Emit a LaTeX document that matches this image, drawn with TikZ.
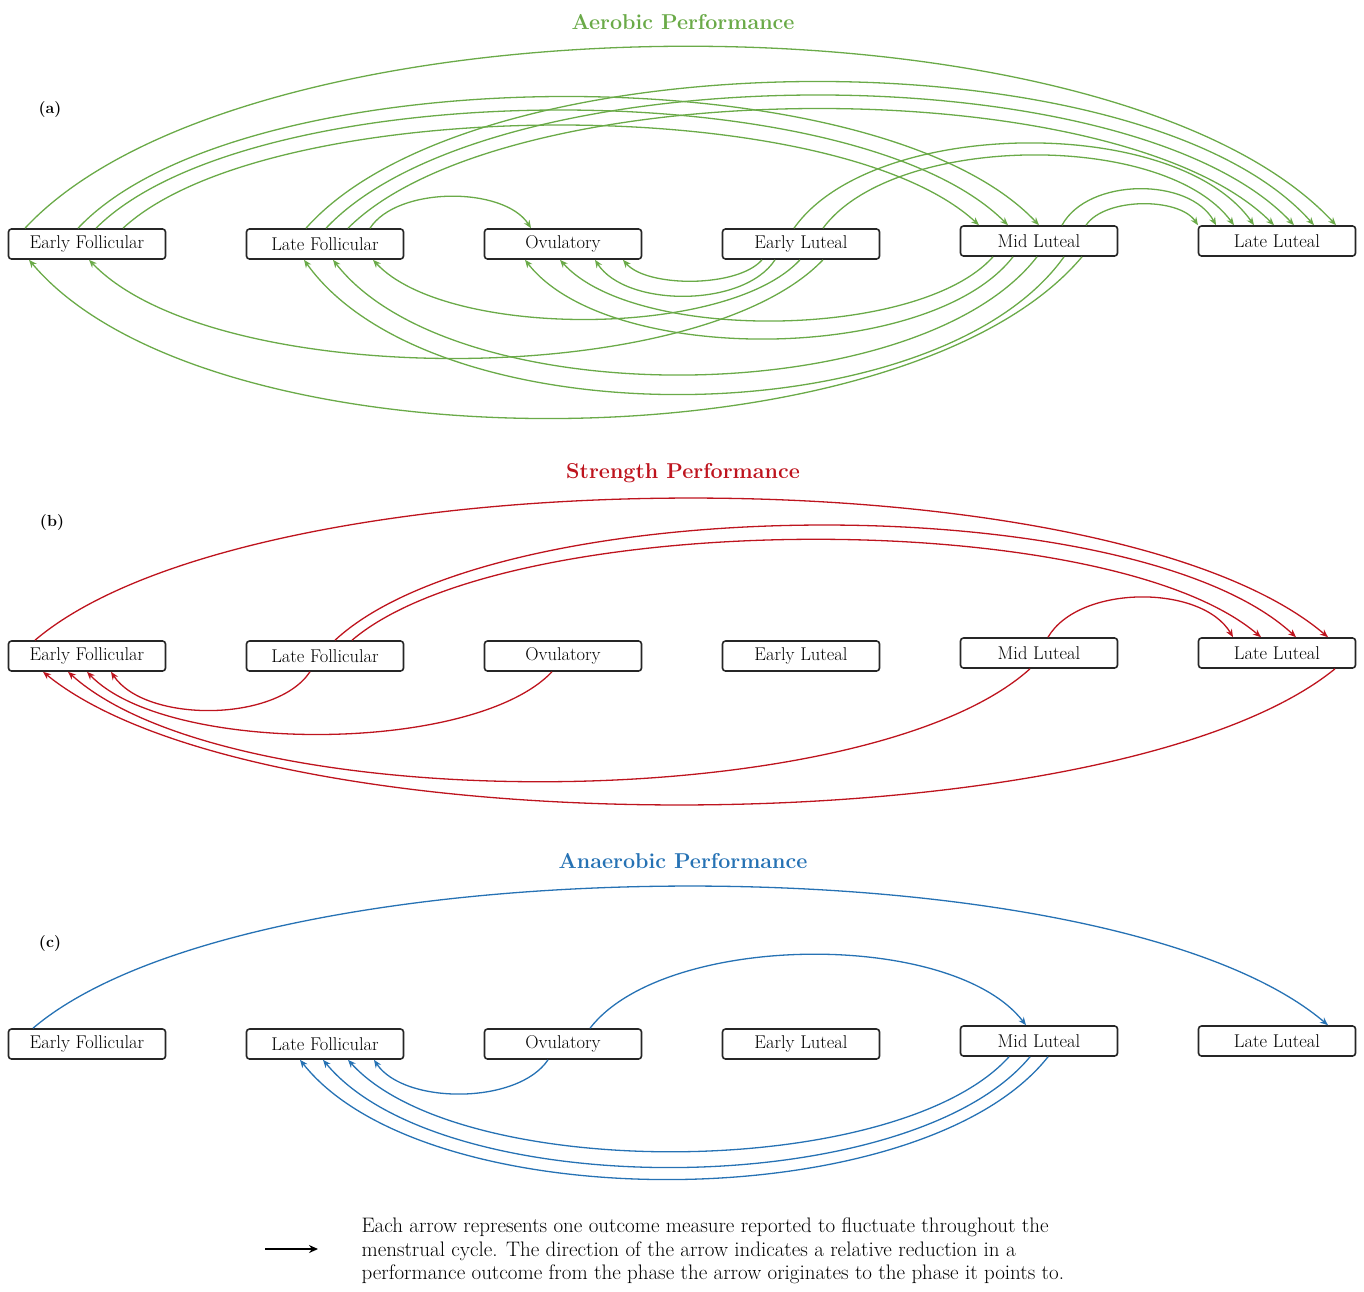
\documentclass[tikz,border=0pt]{standalone}
\usepackage{amsmath}
\usepackage{tikz}
\usetikzlibrary{arrows.meta}

\definecolor{aerogreen}{RGB}{106,170,72}
\definecolor{strred}{RGB}{190,20,30}
\definecolor{anablue}{RGB}{38,114,180}

\begin{document}
\begin{tikzpicture}[x=1pt, y=-1pt,
    phase/.style = {draw=black!85, line width=1.6pt, rounded corners=3pt, minimum width=157pt, minimum height=30pt, inner sep=0pt, font=\fontsize{18.5}{20}\selectfont},
    title/.style = {font=\fontsize{21.5}{24}\selectfont\bfseries},
    panel/.style = {font=\fontsize{16}{18}\selectfont\bfseries},
    aero/.style = {draw=aerogreen, line width=1.3pt, -{Stealth[length=8pt,width=6.5pt]}},
    stren/.style = {draw=strred, line width=1.3pt, -{Stealth[length=8pt,width=6.5pt]}},
    anaero/.style = {draw=anablue, line width=1.3pt, -{Stealth[length=8pt,width=6.5pt]}},
    node distance={238pt}]
        \useasboundingbox (0,0) rectangle (1364,1291);

        % (a) aerobic
        \node[title, text=aerogreen] (ta) at (683,22) {Aerobic Performance};
        \node[panel] (pa) at (50,110) {(a)};
        \node[phase] (EFa) at (87,244) {Early Follicular};
        \node[phase] (LFa) [right of=EFa] {Late Follicular};
        \node[phase] (Ova) [right of=LFa] {Ovulatory};
        \node[phase] (ELa) [right of=Ova] {Early Luteal};
        \node[phase] (MLa) [right of=ELa, yshift=3pt] {Mid Luteal};
        \node[phase] (LLa) [right of=MLa] {Late Luteal};
        \draw[aero] ([xshift=-62pt]EFa.north) .. controls +(223,-240) and +(-223,-240) .. ([xshift=59pt]LLa.north);
        \draw[aero] ([xshift=-9pt]EFa.north) .. controls +(163,-173) and +(-163,-173) .. (MLa.north);
        \draw[aero] ([xshift=9pt]EFa.north) .. controls +(155,-155) and +(-155,-155) .. ([xshift=-31pt]MLa.north);
        \draw[aero] ([xshift=36pt]EFa.north) .. controls +(146,-135) and +(-146,-135) .. ([xshift=-60pt]MLa.north);
        \draw[aero] ([xshift=-19pt]LFa.north) .. controls +(171,-193) and +(-171,-193) .. ([xshift=37pt]LLa.north);
        \draw[aero] ([xshift=1pt]LFa.north) .. controls +(165,-175) and +(-165,-175) .. ([xshift=17pt]LLa.north);
        \draw[aero] ([xshift=23pt]LFa.north) .. controls +(157,-157) and +(-157,-157) .. ([xshift=-3pt]LLa.north);
        \draw[aero] ([xshift=45pt]LFa.north) .. controls +(27,-42) and +(-27,-42) .. ([xshift=-32pt]Ova.north);
        \draw[aero] ([xshift=-7pt]ELa.north) .. controls +(78,-111) and +(-78,-111) .. ([xshift=-23pt]LLa.north);
        \draw[aero] ([xshift=22pt]ELa.north) .. controls +(70,-95) and +(-70,-95) .. ([xshift=-43pt]LLa.north);
        \draw[aero] ([xshift=23pt]MLa.north) .. controls +(26,-48) and +(-26,-48) .. ([xshift=-61pt]LLa.north);
        \draw[aero] ([xshift=47pt]MLa.north) .. controls +(19,-28) and +(-19,-28) .. ([xshift=-79pt]LLa.north);
        \draw[aero] ([xshift=-39pt]ELa.south) .. controls +(-24,28) and +(24,28) .. ([xshift=60pt]Ova.south);
        \draw[aero] ([xshift=-26pt]ELa.south) .. controls +(-31,48) and +(31,48) .. ([xshift=32pt]Ova.south);
        \draw[aero] ([xshift=-1pt]ELa.south) .. controls +(-73,79) and +(73,79) .. ([xshift=48pt]LFa.south);
        \draw[aero] ([xshift=22pt]ELa.south) .. controls +(-125,131) and +(125,131) .. ([xshift=2pt]EFa.south);
        \draw[aero] ([xshift=-46pt]MLa.south) .. controls +(-74,83) and +(74,83) .. ([xshift=-3pt]Ova.south);
        \draw[aero] ([xshift=-26pt]MLa.south) .. controls +(-83,107) and +(83,107) .. ([xshift=-38pt]Ova.south);
        \draw[aero] ([xshift=-2pt]MLa.south) .. controls +(-120,155) and +(120,155) .. ([xshift=8pt]LFa.south);
        \draw[aero] ([xshift=25pt]MLa.south) .. controls +(-129,181) and +(129,181) .. ([xshift=-21pt]LFa.south);
        \draw[aero] ([xshift=43pt]MLa.south) .. controls +(-179,213) and +(179,213) .. ([xshift=-58pt]EFa.south);

        % (b) strength
        \node[title, text=strred] (tb) at (683,473) {Strength Performance};
        \node[panel] (pb) at (52,522) {(b)};
        \node[phase] (EFb) at (87,656) {Early Follicular};
        \node[phase] (LFb) [right of=EFb] {Late Follicular};
        \node[phase] (Ovb) [right of=LFb] {Ovulatory};
        \node[phase] (ELb) [right of=Ovb] {Early Luteal};
        \node[phase] (MLb) [right of=ELb, yshift=3pt] {Mid Luteal};
        \node[phase] (LLb) [right of=MLb] {Late Luteal};
        \draw[stren] ([xshift=-52pt]EFb.north) .. controls +(220,-187) and +(-220,-187) .. ([xshift=51pt]LLb.north);
        \draw[stren] ([xshift=10pt]LFb.north) .. controls +(163,-151) and +(-163,-151) .. ([xshift=19pt]LLb.north);
        \draw[stren] ([xshift=27pt]LFb.north) .. controls +(155,-132) and +(-155,-132) .. ([xshift=-16pt]LLb.north);
        \draw[stren] ([xshift=9pt]MLb.north) .. controls +(31,-53) and +(-31,-53) .. ([xshift=-44pt]LLb.north);
        \draw[stren] ([xshift=-15pt]LFb.south) .. controls +(-34,51) and +(34,51) .. ([xshift=24pt]EFb.south);
        \draw[stren] ([xshift=-11pt]Ovb.south) .. controls +(-79,83) and +(79,83) .. (EFb.south);
        \draw[stren] ([xshift=-9pt]MLb.south) .. controls +(-164,148) and +(164,148) .. ([xshift=-19pt]EFb.south);
        \draw[stren] ([xshift=58pt]LLb.south) .. controls +(-220,179) and +(220,179) .. ([xshift=-44pt]EFb.south);

        % (c) anaerobic
        \node[title, text=anablue] (tc) at (683,861) {Anaerobic Performance};
        \node[panel] (pc) at (50,943) {(c)};
        \node[phase] (EFc) at (87,1044) {Early Follicular};
        \node[phase] (LFc) [right of=EFc] {Late Follicular};
        \node[phase] (Ovc) [right of=LFc] {Ovulatory};
        \node[phase] (ELc) [right of=Ovc] {Early Luteal};
        \node[phase] (MLc) [right of=ELc, yshift=3pt] {Mid Luteal};
        \node[phase] (LLc) [right of=MLc] {Late Luteal};
        \draw[anaero] ([xshift=-54pt]EFc.north) .. controls +(220,-187) and +(-220,-187) .. ([xshift=51pt]LLc.north);
        \draw[anaero] ([xshift=27pt]Ovc.north) .. controls +(74,-96) and +(-74,-96) .. ([xshift=-13pt]MLc.north);
        \draw[anaero] ([xshift=-15pt]Ovc.south) .. controls +(-30,45) and +(30,45) .. ([xshift=49pt]LFc.south);
        \draw[anaero] ([xshift=-30pt]MLc.south) .. controls +(-112,124) and +(112,124) .. ([xshift=23pt]LFc.south);
        \draw[anaero] ([xshift=-9pt]MLc.south) .. controls +(-120,145) and +(120,145) .. ([xshift=-2pt]LFc.south);
        \draw[anaero] ([xshift=9pt]MLc.south) .. controls +(-127,161) and +(127,161) .. ([xshift=-25pt]LFc.south);

        % key
        \coordinate (keyS) at (265,1249);
        \coordinate (keyE) at (318,1249);
        \draw[line width=2.2pt, -{Stealth[length=9pt,width=8pt]}] (keyS) -- (keyE);
        \node[anchor=west, align=left, font=\fontsize{21}{23.5}\selectfont] (note) at (358,1251) {Each arrow represents one outcome measure reported to fluctuate throughout the\\menstrual cycle. The direction of the arrow indicates a relative reduction in a\\performance outcome from the phase the arrow originates to the phase it points to.};
\end{tikzpicture}
\end{document}
